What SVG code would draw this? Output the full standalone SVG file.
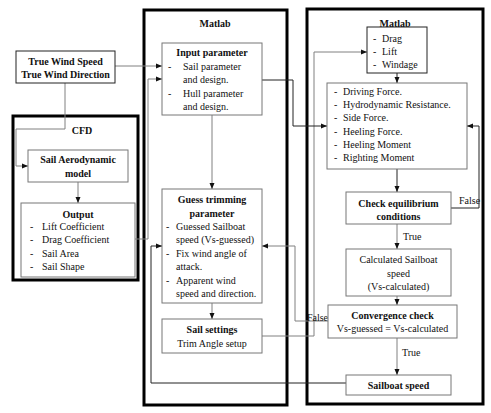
<svg xmlns="http://www.w3.org/2000/svg" width="491" height="413" viewBox="0 0 491 413">
<defs>
<marker id="ah" markerWidth="6" markerHeight="6" refX="6" refY="3" orient="auto" markerUnits="userSpaceOnUse">
<path d="M0,0.5 L6,3 L0,5.5 Z" fill="#111"/>
</marker>
<style>
.outer{fill:none;stroke:#000;stroke-width:3}
.box{fill:#fff;stroke:#777;stroke-width:1}
.dbox{fill:#fff;stroke:#222;stroke-width:1}
.ln{fill:none;stroke:#808080;stroke-width:1}
.dk{fill:none;stroke:#222;stroke-width:1}
.ar{marker-end:url(#ah)}
text{font-size:10px;fill:#111}
.b{font-weight:bold}
.c{text-anchor:middle}
</style>
</defs>
<rect width="491" height="413" fill="#fff"/>
<g font-family="'Liberation Serif', 'DejaVu Serif', serif">
<g id="outer-boxes">
<rect class="outer" x="13" y="116" width="125" height="164"/>
<rect class="outer" x="144" y="10" width="143" height="395"/>
<rect class="outer" x="307" y="9" width="176" height="395"/>
<text class="b c" x="82" y="134">CFD</text>
<text class="b c" x="215" y="27">Matlab</text>
<text class="b c" x="395" y="27">Matlab</text>
</g>

<g id="connectors">
<polyline class="ln ar" points="115,66 162,66"/>
<polyline class="ln ar" points="65,83 65,129 16,129 16,166 28,166"/>
<polyline class="ln ar" points="78,182 78,203"/>
<polyline class="ln ar" points="135,239 148,239 148,79 162,79"/>
<polyline class="ln ar" points="212,115 212,189"/>
<polyline class="ln ar" points="212,303 212,319"/>
<polyline class="ln ar" points="262,336 314,336 314,52 367,52"/>
<polyline class="dk ar" points="262,80 293,80 293,126 327,126"/>
<polyline class="dk ar" points="397,73 397,83"/>
<polyline class="dk ar" points="397,169 397,192"/>
<polyline class="dk ar" points="451,208 479,208 479,126 467,126"/>
<polyline class="ln ar" points="397,224 397,249"/>
<polyline class="ln ar" points="397,296 397,305"/>
<polyline class="ln ar" points="328,321 295,321 295,246 262,246"/>
<polyline class="ln ar" points="397,338 397,375"/>
<polyline class="dk ar" points="346,383 151,383 151,246 162,246"/>
<text x="459" y="204">False</text>
<text x="403" y="240">True</text>
<text x="328" y="321" text-anchor="end">False</text>
<text x="402" y="356">True</text>
</g>

<g id="true-wind">
<rect class="dbox" x="16" y="51" width="99" height="32"/>
<text class="b c" x="65.5" y="65">True Wind Speed</text>
<text class="b c" x="65.5" y="78">True Wind Direction</text>
</g>

<g id="sail-aero">
<rect class="box" x="28" y="150" width="100" height="32"/>
<text class="b c" x="78" y="163">Sail Aerodynamic</text>
<text class="b c" x="78" y="177">model</text>
</g>

<g id="output">
<rect class="box" x="21" y="203" width="114" height="74"/>
<text class="b c" x="78" y="218">Output</text>
<text x="30" y="230">-</text><text x="42" y="230">Lift Coefficient</text>
<text x="30" y="243">-</text><text x="42" y="243">Drag Coefficient</text>
<text x="30" y="257">-</text><text x="42" y="257">Sail Area</text>
<text x="30" y="270">-</text><text x="42" y="270">Sail Shape</text>
</g>

<g id="input-parameter">
<rect class="box" x="162" y="43" width="100" height="72"/>
<text class="b c" x="212" y="56">Input parameter</text>
<text x="168" y="70">-</text><text x="183" y="70">Sail parameter</text>
<text x="183" y="83">and design.</text>
<text x="168" y="97">-</text><text x="183" y="97">Hull parameter</text>
<text x="183" y="110">and design.</text>
</g>

<g id="guess-trimming">
<rect class="box" x="162" y="189" width="100" height="114"/>
<text class="b c" x="212" y="203">Guess trimming</text>
<text class="b c" x="212" y="217">parameter</text>
<text x="166" y="230">-</text><text x="176" y="230">Guessed Sailboat</text>
<text x="176" y="243">speed (Vs-guessed)</text>
<text x="166" y="257">-</text><text x="176" y="257">Fix wind angle of</text>
<text x="176" y="270">attack.</text>
<text x="166" y="284">-</text><text x="176" y="284">Apparent wind</text>
<text x="176" y="297">speed and direction.</text>
</g>

<g id="sail-settings">
<rect class="box" x="162" y="319" width="100" height="34"/>
<text class="b c" x="212" y="333">Sail settings</text>
<text class="c" x="212" y="347">Trim Angle setup</text>
</g>

<g id="drag-lift">
<rect class="dbox" x="367" y="27" width="60" height="46"/>
<text x="373" y="42">-</text><text x="382" y="42">Drag</text>
<text x="373" y="55">-</text><text x="382" y="55">Lift</text>
<text x="373" y="68">-</text><text x="382" y="68">Windage</text>
</g>

<g id="forces">
<rect class="box" x="327" y="83" width="140" height="86"/>
<text x="334" y="95">-</text><text x="343" y="95">Driving Force.</text>
<text x="334" y="108">-</text><text x="343" y="108">Hydrodynamic Resistance.</text>
<text x="334" y="121">-</text><text x="343" y="121">Side Force.</text>
<text x="334" y="135">-</text><text x="343" y="135">Heeling Force.</text>
<text x="334" y="148">-</text><text x="343" y="148">Heeling Moment</text>
<text x="334" y="161">-</text><text x="343" y="161">Righting Moment</text>
</g>

<g id="check-equilibrium">
<rect class="box" x="346" y="192" width="105" height="32"/>
<text class="b c" x="398.5" y="207">Check equilibrium</text>
<text class="b c" x="398.5" y="220">conditions</text>
</g>

<g id="calculated-speed">
<rect class="box" x="346" y="249" width="105" height="47"/>
<text class="c" x="398.5" y="263">Calculated Sailboat</text>
<text class="c" x="398.5" y="277">speed</text>
<text class="c" x="398.5" y="290">(Vs-calculated)</text>
</g>

<g id="convergence">
<rect class="box" x="328" y="305" width="129" height="33"/>
<text class="b c" x="392.5" y="319">Convergence check</text>
<text class="c" x="392.5" y="332" font-size="10.8">Vs-guessed = Vs-calculated</text>
</g>

<g id="sailboat-speed">
<rect class="box" x="346" y="375" width="105" height="20"/>
<text class="b c" x="398.5" y="389">Sailboat speed</text>
</g>
</g>
</svg>
